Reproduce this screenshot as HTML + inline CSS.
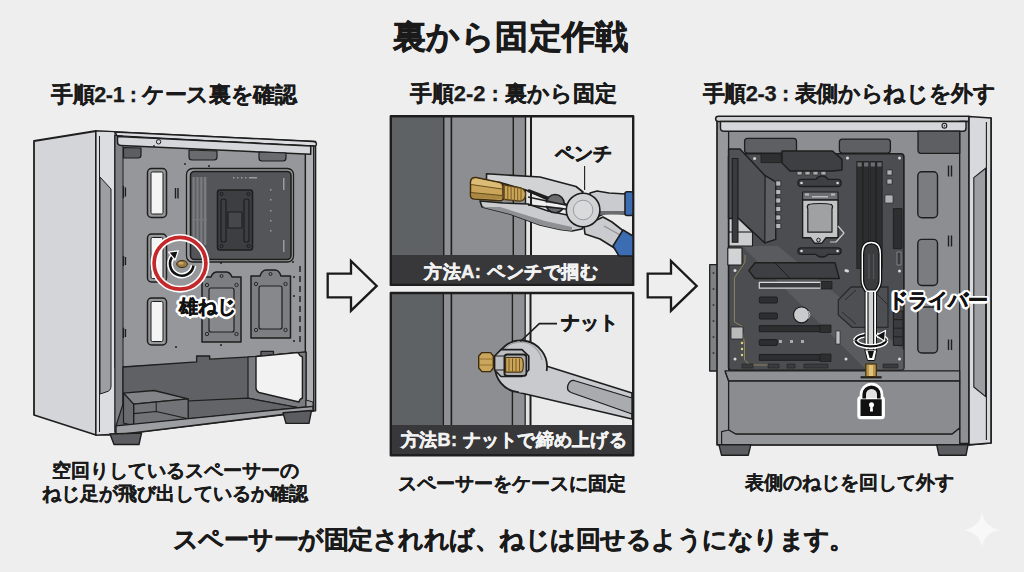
<!DOCTYPE html>
<html lang="ja">
<head>
<meta charset="utf-8">
<title>裏から固定作戦</title>
<style>
html,body{margin:0;padding:0;}
body{width:1024px;height:572px;overflow:hidden;background:#eeeeee;position:relative;font-family:"Liberation Sans",sans-serif;color:#1a1a1a;}
svg.art{position:absolute;left:0;top:0;width:1024px;height:572px;}
.t{position:absolute;white-space:nowrap;font-weight:bold;line-height:1;}
.lbl{color:#f2f2f2;}
.out{color:#111;text-shadow:2.5px 0 0 #fff,-2.5px 0 0 #fff,0 2.5px 0 #fff,0 -2.5px 0 #fff,1.8px 1.8px 0 #fff,-1.8px -1.8px 0 #fff,1.8px -1.8px 0 #fff,-1.8px 1.8px 0 #fff,1px 2.3px 0 #fff,-1px 2.3px 0 #fff,1px -2.3px 0 #fff,-1px -2.3px 0 #fff,2.3px 1px 0 #fff,-2.3px 1px 0 #fff,2.3px -1px 0 #fff,-2.3px -1px 0 #fff,0 0 3px #fff;}
</style>
</head>
<body>
<svg class="art" viewBox="0 0 1024 572">
<!-- PANEL1 -->
<g id="p1" stroke="#1e1e1e" stroke-linejoin="round">
 <!-- side face -->
 <polygon points="34,141 96,131 96,435 34,415" fill="#d3d5d8" stroke-width="1.8"/>
 <!-- front frame outer -->
 <polygon points="96,131 315.5,141.6 315.5,410.7 116,434.9 96,435" fill="#c4c6c9" stroke-width="1.6"/>
 <!-- front bezel strip -->
 <polygon points="96,131 115,131.7 115,434 96,435" fill="#dcdde0" stroke-width="1.2"/>
 <line x1="99.5" y1="136" x2="99.5" y2="432" stroke-width="1"/>
 <path d="M100,177 L111,189 L111,386 Q111,391 106,392 L100,394 Z" fill="#9c9ea1" stroke-width="1"/>
 <!-- top strip light -->
 <path d="M115,132 L313,141.5 Q316.5,141.8 316.5,144 Q316.5,146.2 313,146 L117.5,136.6 Z" fill="#dcdde0" stroke-width="1.3"/>
 <!-- interior panel -->
 <polygon points="115,135.5 305.4,146 305.4,356 123,367 115,367" fill="#96979a" stroke-width="1.2"/>
 <!-- left interior frame strip -->
 <polygon points="115,135.5 123,136 123,430 115,432" fill="#7f8184" stroke-width="1"/>
 <!-- right frame -->
 <polygon points="305.4,146 313.7,146 313.7,410.7 305.4,411" fill="#aeb0b3" stroke-width="1.3"/>
 
 <!-- top rail -->
 <path d="M117.5,136.6 L310.7,146 L310.7,154.3 L121,145.4 Q117.5,145.2 117.5,142 Z" fill="#d6d7da" stroke-width="1.5"/>
 <circle cx="158.6" cy="141.8" r="2.2" fill="none" stroke-width="1"/>
 <!-- top tabs -->
 <path d="M123.5,147.5 L141,148 L141,155 Q141,158 138,158 L123.5,158 Z" fill="#5d5e61" stroke-width="1.2"/>
 <path d="M189,150 L217,151 L217,157 Q217,160 214,160 L192,160 Q189,160 189,157 Z" fill="#6a6b6e" stroke-width="1.2"/>
 <path d="M259,152 L286,153 L286,158 Q286,161 283,161 L262,161 Q259,161 259,158 Z" fill="#6a6b6e" stroke-width="1.2"/>
 <!-- slot cutouts -->
 <rect x="147.5" y="168.5" width="19" height="49" rx="4" fill="#96979a" stroke-width="1.5"/>
 <rect x="151" y="172" width="12" height="42" rx="1.5" fill="#f4f4f4" stroke-width="1"/>
 <rect x="147.5" y="234" width="19" height="48" rx="4" fill="#96979a" stroke-width="1.5"/>
 <rect x="151" y="237.5" width="12" height="41" rx="1.5" fill="#f4f4f4" stroke-width="1"/>
 <rect x="147.5" y="298" width="19" height="47" rx="4" fill="#96979a" stroke-width="1.5"/>
 <rect x="151" y="301.5" width="12" height="40" rx="1.5" fill="#f4f4f4" stroke-width="1"/>
 <!-- small clips -->
 <path d="M123.5,186 v12 M125.5,187.5 v9 M123.5,256 v10 M125.5,257 v8 M123.5,327.7 v10.3 M125.5,329 v8" stroke-width="1.3" fill="none"/>
 <path d="M175.5,188 v10.4 M178,188 v10.4" stroke-width="1.4" fill="none"/>
 <!-- mb cutout -->
 <rect x="186.5" y="168.5" width="107" height="93.5" rx="6" fill="#9a9b9e" stroke-width="1.3"/>
 <rect x="190.5" y="171.5" width="100.5" height="88" rx="4" fill="#545559" stroke-width="1.6"/>
 <rect x="191.9" y="177" width="15.1" height="68" fill="#5e5f62" stroke="none"/><g fill="#7a7b7e" stroke="none"><rect x="192.6" y="177" width="2.2" height="68"/><rect x="196.4" y="177" width="2.2" height="68"/><rect x="200.2" y="177" width="2.2" height="68"/><rect x="204" y="177" width="2.2" height="68"/><rect x="191.9" y="219.3" width="15.1" height="1"/></g>
 <g fill="#9a9b9e" stroke="none"><rect x="233" y="177" width="1.5" height="1.5"/><rect x="237" y="177" width="1.5" height="1.5"/><rect x="241" y="177" width="1.5" height="1.5"/><rect x="245" y="177" width="1.5" height="1.5"/><rect x="249" y="177" width="8" height="1.5"/><rect x="270" y="189" width="1.5" height="1.5"/><rect x="270" y="199" width="1.5" height="1.5"/><rect x="270" y="210" width="1.5" height="1.5"/><rect x="270" y="220" width="1.5" height="1.5"/><rect x="270" y="230" width="1.5" height="1.5"/><rect x="283" y="178" width="1.5" height="12"/><rect x="283" y="240" width="1.5" height="12"/></g>
 <!-- cpu backplate -->
 <rect x="217.5" y="190" width="35" height="60" rx="2.5" fill="#3d3e41" stroke-width="1.6"/>
 <rect x="221" y="199" width="5" height="43" rx="2" fill="none" stroke-width="1.2"/>
 <rect x="244" y="199" width="5" height="43" rx="2" fill="none" stroke-width="1.2"/>
 <rect x="228" y="212" width="14" height="16" fill="#46474a" stroke-width="1.2"/>
 <g fill="none" stroke-width="1"><circle cx="221.5" cy="194" r="1.6"/><circle cx="248.5" cy="194" r="1.6"/><circle cx="221.5" cy="246" r="1.6"/><circle cx="248.5" cy="246" r="1.6"/></g>
 <!-- ssd brackets -->
 <path d="M202,277 L211,277 Q213,272 217,272 L226,272 Q230,272 232,277 L241,277 L241,342 L202,342 Z" fill="#7d7e81" stroke-width="1.5"/>
 <rect x="209" y="288" width="25" height="44" rx="2" fill="#87888b" stroke-width="1.2"/>
 <path d="M251,276 L260,276 Q262,270 266,270 L275,270 Q279,270 281,276 L290.5,276 L290.5,338 L251,338 Z" fill="#7d7e81" stroke-width="1.5"/>
 <rect x="259" y="286" width="23" height="43" rx="2" fill="#87888b" stroke-width="1.2"/>
 <g fill="none" stroke-width="0.9"><circle cx="207" cy="285" r="1.7"/><circle cx="236.5" cy="285" r="1.7"/><circle cx="207" cy="334" r="1.7"/><circle cx="236.5" cy="334" r="1.7"/><circle cx="221.5" cy="276" r="1.5"/><circle cx="256" cy="284" r="1.7"/><circle cx="285.5" cy="284" r="1.7"/><circle cx="256" cy="330" r="1.7"/><circle cx="285.5" cy="330" r="1.7"/><circle cx="270.5" cy="274" r="1.5"/></g>
 <g fill="#1e1e1e" stroke="none"><circle cx="154" cy="146" r="0.9"/><circle cx="209" cy="166" r="1"/><circle cx="218" cy="245" r="0"/><circle cx="221" cy="263" r="1"/><circle cx="293" cy="262" r="1"/><circle cx="294" cy="277" r="1"/><circle cx="294" cy="296" r="1"/><circle cx="294" cy="341" r="1"/><circle cx="221" cy="345" r="1"/><circle cx="176" cy="347" r="1"/><circle cx="185" cy="164" r="0.9"/></g>
 <path d="M300,266 v6 M300,276 v6 M300,286 v6 M300,296 v6 M300,306 v6 M300,316 v6 M300,326 v6 M300,336 v6" stroke-width="1.4"/>
 <!-- psu compartment -->
 <path d="M123,367 L196.6,361.9 L196.6,356 L209.7,356 L209.7,359.2 L255,356.6 L261,356 L261,351.4 L273.5,351.4 L273.5,355 L306,352 L306,411 L123,430 Z" fill="#606164" stroke-width="1.3"/>
 <polygon points="248,357 306,352 306,409 248,398.2" fill="#7b7c7f" stroke-width="1.2"/>
 <polygon points="123,404 248,398.2 306,409 306,407 116,426" fill="#636467" stroke-width="1.2"/>
 <!-- psu cutout -->
 <path d="M256,356.6 L298,352.5 Q299.5,356 302.4,357 L302.4,398 Q299.5,399 299,402 L259,392.5 Q256,391 256,388 Z" fill="#f2f2f2" stroke-width="1.4"/>
 <!-- drive box -->
 <polygon points="123.5,393.1 154,390.5 188.2,398.9 133.6,404.1" fill="#838487" stroke-width="1.3"/>
 <polygon points="133.6,404.1 188.2,398.9 188.2,418.8 133.6,425.6" fill="#727376" stroke-width="1.3"/>
 <polygon points="123.5,393.1 133.6,404.1 133.6,425.6 123.5,423" fill="#6a6b6e" stroke-width="1.2"/>
 <polyline points="133.6,413.6 156.2,411.5 188.2,418.8" fill="none" stroke-width="1.1"/>
 <line x1="156.2" y1="402" x2="156.2" y2="411.5" stroke-width="1"/>
 <!-- base plate -->
 <polygon points="116,425.9 313,406.2 313,410.7 116,434.9" fill="#9d9ea1" stroke-width="1.4"/>
 <polygon points="306,406.9 313,406.2 313,402 306,400" fill="#9d9ea1" stroke-width="1"/>
<!-- feet -->
 <polygon points="110,434 141.5,433 139,444.5 114,444.5" fill="#5c5d60" stroke-width="1.4"/>
 <polygon points="283,412.8 311.5,410.5 309,423.4 286,423.4" fill="#5c5d60" stroke-width="1.4"/>
 <!-- red circle callout -->
 <circle cx="180" cy="263.3" r="25.9" fill="none" stroke="#fff" stroke-width="7"/>
 <circle cx="180" cy="263.3" r="25.9" fill="none" stroke="#c4282b" stroke-width="3.7"/>
 <ellipse cx="182" cy="264" rx="5.4" ry="3.5" fill="#9c7c44" stroke="#3a2c10" stroke-width="1"/>
 <ellipse cx="181" cy="263.2" rx="2.6" ry="1.3" fill="#c9a96a" stroke="none"/>
 <path d="M193.5,265.5 A11.8,11.8 0 1,1 173.5,255.5" fill="none" stroke="#fff" stroke-width="5.6"/>
 <path d="M193.5,265.5 A11.8,11.8 0 1,1 173.5,255.5" fill="none" stroke="#111" stroke-width="2.6"/>
 <polygon points="178.3,250.8 168.6,252.2 175.2,260" fill="#111" stroke="#fff" stroke-width="1.2"/>
</g>
<!-- PANEL2 -->
<g id="p2" stroke="#1e1e1e" stroke-linejoin="round">
 <!-- panel A background -->
 <rect x="391" y="116.5" width="242" height="169" fill="#ebebeb" stroke="none"/>
 <rect x="391" y="116.5" width="52.5" height="139" fill="#5f6265" stroke="none"/>
 <rect x="444.5" y="116.5" width="6" height="139" fill="#8f9194" stroke="none"/>
 <rect x="452" y="116.5" width="60.5" height="139" fill="#8d8e91" stroke="none"/>
 <rect x="514" y="116.5" width="11" height="139" fill="#8f9194" stroke="none"/>
 <rect x="526" y="116.5" width="4" height="139" fill="#e2e2e2" stroke="none"/>
 <g fill="#1e1e1e" stroke="none"><rect x="443" y="116.5" width="1.6" height="139"/><rect x="450.4" y="116.5" width="1.8" height="139"/><rect x="512.4" y="116.5" width="1.6" height="139"/><rect x="524.8" y="116.5" width="1.4" height="139"/><rect x="530" y="116.5" width="2" height="139"/></g>
 <rect x="391" y="255" width="242" height="30" fill="#38383a" stroke="none"/>
 <rect x="390.8" y="116.3" width="242.4" height="168.6" fill="none" stroke-width="2.4"/>
 <!-- leader -->
 <line x1="584.6" y1="166" x2="584.6" y2="190" stroke-width="1.1"/>
 <!-- pliers lower jaw -->
 <path d="M480,201 L503,203 L528,204 L548,211 L572,216 L586,222 L582,229 L572,231 L560,229.5 L540,225 L510,214 L482,207 Z" fill="#c9cbce" stroke-width="1.6"/>
 <path d="M482,207 L510,214 L540,225 L560,229.5 L572,231 L572,227 L545,221 L500,207 Z" fill="#8e9093" stroke="none"/>
 <!-- upper jaw -->
 <path d="M486.5,173.8 L540,177 L576,186.5 L583,192 L576,200 L566,205 L548,200 L526,190 L500,182.5 L486.5,181 Z" fill="#d1d3d5" stroke-width="1.6"/>
 <path d="M528,190.5 L566,205" stroke-width="3.2"/>
 <!-- cutter hole -->
 <circle cx="555.2" cy="203.7" r="9.1" fill="#6b6c6f" stroke-width="1.5"/>
 <path d="M538,203 L575,208" stroke="#f0f0f0" stroke-width="3"/>
 <path d="M528,197 L575,207" stroke-width="1.4"/>
 <path d="M528,205 L575,210" stroke-width="1.4"/>
 <!-- lower handle -->
 <path d="M584,226 L603,217 L612,222 L626,233 L616,249 L600,239 L585,234 Z" fill="#c9cbce" stroke-width="1.6"/><path d="M604,226 L622,236" stroke="#8e9093" stroke-width="1.2"/>
 <path d="M613,246 L623,230 L633,236 L633,256 L619,256 Z" fill="#3c6db3" stroke-width="1.6"/>
 <!-- upper handle -->
 <path d="M590,193 L597,191 L609,193 L626,194 L626,214 L606,213 L590,220 Z" fill="#c9cbce" stroke-width="1.6"/>
 <path d="M600,211 L626,211 L626,214 L600,215 Z" fill="#6b6c6f" stroke="none"/>
 <rect x="625" y="191.8" width="8" height="23.7" rx="2" fill="#3c6db3" stroke-width="1.6"/>
 <!-- pivot -->
 <circle cx="583.1" cy="210" r="16.8" fill="#d1d3d5" stroke-width="1.6"/>
 <circle cx="583.1" cy="210" r="9.8" fill="#d9dadc" stroke="#9a9b9e" stroke-width="1"/>
 <!-- brass standoff -->
 <path d="M501,184.4 L521,188 Q526,190 525.5,195 Q525,200.5 520,201.2 L501,199 Z" fill="#c9a55a" stroke="#4a3510" stroke-width="1.3"/>
 <g stroke="#7a5a20" stroke-width="1" fill="none"><path d="M504.5,185 v15 M507.8,185.5 v15 M511.1,186 v15 M514.4,186.6 v14.8 M517.7,187.2 v14.3 M521,188 v13.5"/></g>
 <path d="M476,177.5 L500,182.5 Q503,183.5 503,186 L503,198.5 Q503,200.8 500,200.8 L474,199 Q470.5,198.5 470.5,195 L470.5,182 Q470.5,177.2 476,177.5 Z" fill="#caa65c" stroke="#3e2c0c" stroke-width="1.5"/>
 <path d="M476,178.5 L500,183.5 L502.2,189 L471.2,184.5 Q471.5,179 476,178.5 Z" fill="#dcbd78" stroke="none"/>
 <path d="M471.2,192.5 L502.2,195.5 L502.2,199.2 L474,198.2 Q471.3,197.5 471.2,195 Z" fill="#a98843" stroke="none"/>
 <path d="M471,184.5 L502,189 M471,192.5 L502,195.5" stroke="#6a4f1a" stroke-width="1"/>
 <!-- ================= panel B ================= -->
 <rect x="391" y="293.5" width="242" height="162" fill="#ebebeb" stroke="none"/>
 <rect x="391" y="292.5" width="52" height="133" fill="#5f6265" stroke="none"/>
 <rect x="444.5" y="292.5" width="6" height="133" fill="#8f9194" stroke="none"/>
 <rect x="452" y="292.5" width="59.5" height="133" fill="#8d8e91" stroke="none"/>
 <rect x="513" y="292.5" width="11.5" height="133" fill="#8f9194" stroke="none"/>
 <rect x="525.5" y="292.5" width="4" height="133" fill="#e2e2e2" stroke="none"/>
 <g fill="#1e1e1e" stroke="none"><rect x="442.7" y="292.5" width="1.6" height="133"/><rect x="450.4" y="292.5" width="1.8" height="133"/><rect x="511.5" y="292.5" width="1.6" height="133"/><rect x="524.4" y="292.5" width="1.4" height="133"/><rect x="529.5" y="292.5" width="2" height="133"/></g>
 <rect x="391" y="425" width="242" height="30.2" fill="#38383a" stroke="none"/>
 <rect x="390.8" y="293" width="242.4" height="162.2" fill="none" stroke-width="2.4"/>
 <!-- wrench -->
 <path d="M543,365 L632,393 L632,419 L519,392.5 Z" fill="#c8cacd" stroke-width="1.7"/>
 <path d="M574,380.5 L632,398 L632,414 L571,392.5 Q566,390 568,385 Q570,380 574,380.5 Z" fill="#a9abae" stroke-width="1.3"/>
 <circle cx="521" cy="366.5" r="26" fill="#c8cacd" stroke="none"/>
 <path d="M546.6,371 A26,26 0 1,0 519,392.4" fill="none" stroke-width="1.8"/>
 <path d="M502,352 A22,22 0 0,1 542,360" fill="none" stroke="#9c9ea1" stroke-width="1.2"/>
 <!-- nut -->
 <polygon points="501,349.6 522,349.6 528.8,356 528.8,370 522,376.5 501,376.5 494.6,370 494.6,356" fill="#bcbec1" stroke-width="1.6"/>
 <path d="M494.6,356 L504,356 M494.6,370 L504,370" stroke-width="1"/>
 <rect x="504.4" y="354.5" width="22" height="21.4" rx="3" fill="#a9abae" stroke-width="1.8"/>
 <!-- standoff -->
 <polygon points="482,352.6 490.5,352.6 493.3,356 493.3,368 490.5,371.6 482,371.6 478.7,368 478.7,356" fill="#caa65c" stroke="#3e2c0c" stroke-width="1.4"/>
 <path d="M479.5,359 L492.5,359 M479.5,365 L492.5,365" stroke="#8a6a2a" stroke-width="0.9"/>
 <path d="M505.6,357.5 L520.5,357.5 Q523.3,358 523.3,365 Q523.3,372 520.5,372.2 L505.6,372.2 Z" fill="#c9a55a" stroke="#4a3510" stroke-width="1.2"/>
 <g stroke="#7a5a20" stroke-width="1" fill="none"><path d="M509,358.5 v13 M512.5,358.5 v13 M516,358.5 v13 M519.5,358.5 v13"/></g>
 <!-- leader -->
 <path d="M557,323.6 L539.3,323.6 L520.4,341.5" fill="none" stroke-width="1.6"/>
</g>
<!-- PANEL3 -->
<g id="p3" stroke="#1e1e1e" stroke-linejoin="round">
 <!-- expansion bracket outside -->
 <rect x="709.7" y="264.7" width="8.5" height="106.3" fill="#808184" stroke-width="1.3"/>
 <g fill="#3a3b3e" stroke="none"><circle cx="713.5" cy="273" r="1"/><circle cx="713.5" cy="289" r="1"/><circle cx="713.5" cy="305" r="1"/><circle cx="713.5" cy="321" r="1"/><circle cx="713.5" cy="337" r="1"/><circle cx="713.5" cy="353" r="1"/></g>
 <!-- case body -->
 <polygon points="717,121 969,121 991,118 991,443 969,444.8 717,444.8" fill="#98999c" stroke-width="1.7"/>
 <!-- interior back -->
 <rect x="728.6" y="131.2" width="231.1" height="250" fill="#8d8e91" stroke-width="1.3"/>
 <!-- left frame detail -->
 <path d="M718.5,116.2 L969,116.2 L969,121.5 L718.5,121.5 Q715.6,121.5 715.6,118.8 Q715.6,116.2 718.5,116.2 Z" fill="#cfd0d3" stroke-width="1.5"/>
 <rect x="959.7" y="121.5" width="9.3" height="322" fill="#8e9093" stroke-width="1.3"/>
 <!-- top rail -->
 <path d="M720.5,121.5 L966,121.5 L966,128 Q966,131.2 963,131.2 L724,131.2 Q720.5,131.2 720.5,128 Z" fill="#d6d7da" stroke-width="1.4"/>
 <circle cx="944.4" cy="125.7" r="2.4" fill="none" stroke-width="1.1"/>
 <circle cx="944.4" cy="125.7" r="0.8" fill="#1e1e1e" stroke="none"/>
 <!-- right interior frame -->
 
 <!-- front panel right -->
 <polygon points="969,116.5 991,118 991,443 969,444.8" fill="#d8d9dc" stroke-width="1.6"/>
 <line x1="986.4" y1="122" x2="986.4" y2="440" stroke-width="1.1"/>
 <path d="M973.8,177.6 L985.6,168.2 L985.6,396.7 L973.8,387 Z" fill="#9c9ea1" stroke-width="1.1"/>
 <!-- top fans -->
 <rect x="744.6" y="138.3" width="51.9" height="14.9" rx="3" fill="#5e5f62" stroke-width="1.3"/>
 <rect x="839.4" y="139.1" width="51" height="14" rx="3" fill="#5e5f62" stroke-width="1.3"/>
 <path d="M918,131.2 L959.7,131.2 L959.7,153.3 L921,153.3 Q918,153.3 918,150 Z" fill="#5e5f62" stroke-width="1.3"/>
 <!-- grommets -->
 <rect x="917.8" y="171.7" width="19.7" height="46" rx="4" fill="#7b7c7f" stroke-width="1.4"/>
 <rect x="917.8" y="239.4" width="19.7" height="46.1" rx="4" fill="#7b7c7f" stroke-width="1.4"/>
 <rect x="917.8" y="307" width="19.7" height="46" rx="4" fill="#7b7c7f" stroke-width="1.4"/>
 <path d="M948.5,165.5 v11 M951.5,165.5 v11 M948.5,235.5 v11 M951.5,235.5 v11 M948.5,339.5 v10.5 M951.5,339.5 v10.5" stroke-width="1.4"/>
 <!-- motherboard -->
 <rect x="728.6" y="153.7" width="175.3" height="216.5" rx="3" fill="#4c4d50" stroke-width="1.6"/>
 <!-- diagonal sheen -->
 <polygon points="742,246 778,246 903.5,350 903.5,369.5 866,369.5" fill="#5a5b5e" stroke="none"/>
 <!-- top vrm heatsink -->
 <polygon points="782,151 832.5,151 842,159.4 842,169.9 833,171 790,171 782,163" fill="#3e3f42" stroke-width="1.5"/>
 <g fill="#a9aaac" stroke="#1e1e1e" stroke-width="0.6"><rect x="797" y="171.5" width="5" height="3.5"/><rect x="805" y="171.5" width="5" height="3.5"/><rect x="813" y="171.5" width="5" height="3.5"/><rect x="821" y="171.5" width="5" height="3.5"/></g>
 <rect x="761" y="153.6" width="20" height="9" fill="#2f3032" stroke="#1e1e1e" stroke-width="0.8"/>
 <circle cx="754.6" cy="158.5" r="1.6" fill="#cfcfcf" stroke="none"/>
 <!-- left vrm heatsink -->
 <polygon points="729,218.4 738.5,218.4 752.5,232 752.5,246 729,246" fill="#cdced0" stroke-width="1.1"/>
 <line x1="729" y1="232" x2="752.5" y2="232" stroke-width="1.1"/>
 <rect x="727.8" y="248" width="14.2" height="17" fill="#d2d3d5" stroke-width="1.1"/>
 <polygon points="728.6,149 740,149 765.1,175.7 775.6,182 775.6,239.2 764.8,242.9 738.5,218.4 728.6,218.4" fill="#505154" stroke-width="1.5"/>
 <polygon points="765.1,175.7 775.6,182 775.6,239.2 764.8,242.9" fill="#5f6063" stroke-width="1.2"/>
 <rect x="732.3" y="158.5" width="5.6" height="83.7" fill="#3a3b3e" stroke-width="1.2"/>
 <g fill="#b7b8ba" stroke="#1e1e1e" stroke-width="0.7"><rect x="775.8" y="181" width="5" height="5"/><rect x="775.8" y="189.5" width="5" height="5"/><rect x="775.8" y="198" width="5" height="5"/><rect x="775.8" y="206.5" width="5" height="5"/><rect x="775.8" y="215" width="5" height="5"/><rect x="775.8" y="223.5" width="5" height="5"/></g>
 
 <!-- cpu cooler bars -->
 <path d="M801.5,179.4 L816,179.4 Q818,176 822,176 Q826,176 828,179.4 L837.6,179.4 Q841.2,179.4 841.2,183 Q841.2,186.5 837.6,186.5 L801.5,186.5 Q797.9,186.5 797.9,183 Q797.9,179.4 801.5,179.4 Z" fill="#3e3f42" stroke-width="1.3"/>
 <path d="M801.5,247.8 L837.6,247.8 Q841.2,247.8 841.2,251 Q841.2,254.3 837.6,254.3 L828,254.3 Q826,257 822,257 Q818,257 816,254.3 L801.5,254.3 Q797.9,254.3 797.9,251 Q797.9,247.8 801.5,247.8 Z" fill="#3e3f42" stroke-width="1.3"/>
 <circle cx="801.5" cy="183" r="1.3" fill="#ddd" stroke="none"/><circle cx="837.6" cy="183" r="1.3" fill="#ddd" stroke="none"/>
 <circle cx="801.5" cy="251" r="1.3" fill="#ddd" stroke="none"/><circle cx="837.6" cy="251" r="1.3" fill="#ddd" stroke="none"/>
 <!-- cpu socket -->
 <rect x="802.6" y="192" width="35.4" height="8" fill="#6d6e71" stroke-width="1.2"/>
 <g fill="#b9babc" stroke="none"><rect x="805" y="193.5" width="4" height="2"/><rect x="831" y="193.5" width="4" height="2"/><rect x="812" y="196" width="16" height="1.5"/></g>
 <path d="M802.6,200 L838,200 L838,237.7 L826,237.7 L822,243.2 L814.5,243.2 L810.5,237.7 L802.6,237.7 Z" fill="#c3c4c6" stroke-width="1.4"/>
 <path d="M808.5,204.6 Q812,203.5 820,203.5 Q828,203.5 831.5,204.6 Q833.3,206 832,209 L832,232.2 L807.8,232.2 L807.8,209 Q806.5,206 808.5,204.6 Z" fill="#a0a1a3" stroke-width="1.2"/>
 <circle cx="818.5" cy="240" r="1.8" fill="none" stroke-width="1"/>
 <path d="M838,226 L844,233 L836,242 L830,242" fill="none" stroke="#c9cacc" stroke-width="1.2"/>
 <!-- ram slots -->
 <g fill="#2d2e30" stroke="#1e1e1e" stroke-width="0.8"><rect x="856.8" y="161.5" width="5.6" height="107"/><rect x="863.4" y="161.5" width="5.6" height="107"/><rect x="870" y="161.5" width="5.6" height="107"/><rect x="876.6" y="161.5" width="5.6" height="107"/></g>
 <g fill="#6c6d70" stroke="none"><rect x="857.5" y="162.5" width="4.2" height="4"/><rect x="864.1" y="162.5" width="4.2" height="4"/><rect x="870.7" y="162.5" width="4.2" height="4"/><rect x="877.3" y="162.5" width="4.2" height="4"/></g>
 <g fill="#b0b1b3" stroke="#1e1e1e" stroke-width="0.6"><rect x="887" y="170" width="5" height="5"/><rect x="887" y="179" width="5" height="5"/><rect x="885" y="195" width="8" height="8"/></g>
 <rect x="893.3" y="208.6" width="8.7" height="40" fill="#2d2e30" stroke-width="0.9"/>
 <rect x="897" y="252" width="4" height="13" fill="#3a3b3e" stroke="#aaa" stroke-width="0.6"/>
 <g fill="#d9d9d9" stroke="none"><circle cx="847.5" cy="158" r="1.5"/><circle cx="899.5" cy="158" r="1.5"/><circle cx="847.5" cy="271" r="1.5"/><circle cx="899.5" cy="271" r="1.5"/><circle cx="735" cy="270.6" r="1.5"/><circle cx="846" cy="270.6" r="1.5"/><circle cx="735" cy="359" r="1.5"/><circle cx="846" cy="359" r="1.5"/><circle cx="899.5" cy="359" r="1.5"/></g>
 <rect x="893.4" y="311" width="9.6" height="34.4" fill="#3a3b3e" stroke-width="1"/>
 <path d="M893.4,319.6 h9.6 M893.4,328.2 h9.6 M893.4,336.8 h9.6" stroke-width="0.9"/>
 <!-- chipset heatsink strip -->
 <polygon points="748.8,270.6 755,262.8 835,262.8 839.3,278.5 755,278.5" fill="#3e3f42" stroke-width="1.4"/>
 <line x1="775" y1="262.8" x2="790" y2="278.5" stroke-width="1"/>
 <!-- big chipset heatsink right -->
 <path d="M838.3,300 L851,287 L888,287 L888,327.3 L852,327.3 L838.3,315 Z" fill="#4e4f52" stroke="#2a2b2d" stroke-width="1.3"/><path d="M842,312 L856,324 M845,300 L856,290 M870,287 L888,305" stroke="#2a2b2d" stroke-width="1" fill="none"/>
 <!-- PCIe slots -->
 <rect x="759.3" y="282.4" width="61.7" height="5.8" fill="#3a3b3e" stroke="#dadada" stroke-width="1.2"/>
 <rect x="821" y="281.5" width="11" height="7.5" fill="#2d2e30" stroke-width="0.8"/>
 <rect x="759.3" y="297" width="18" height="6" rx="1" fill="#2d2e30" stroke-width="1"/>
 <rect x="759.3" y="313" width="18" height="6" rx="1" fill="#2d2e30" stroke-width="1"/>
 <rect x="759.3" y="325.7" width="61" height="6" fill="#2d2e30" stroke-width="1"/>
 <rect x="820" y="325" width="11" height="7.5" fill="#2d2e30" stroke-width="0.8"/>
 <rect x="759.3" y="339.6" width="18" height="5.8" rx="1" fill="#2d2e30" stroke-width="1"/>
 <rect x="759.3" y="354.5" width="61" height="5.8" fill="#2d2e30" stroke-width="1"/>
 <rect x="820" y="354" width="11" height="7.5" fill="#2d2e30" stroke-width="0.8"/>
 <circle cx="801.5" cy="314.8" r="8" fill="#c9cacc" stroke-width="1.2"/><path d="M808.5,311 L810,314.8 L808.5,318.5" fill="none" stroke="#c9cacc" stroke-width="1"/>
 <g fill="#a9aaac" stroke="none"><rect x="779" y="340" width="3" height="3"/><rect x="790" y="340" width="3" height="3"/><rect x="801" y="340" width="3" height="3"/></g>
 <rect x="836" y="331" width="4" height="13" fill="#c0c1c3" stroke="#1e1e1e" stroke-width="0.6"/>
 <!-- gold trace -->
 <path d="M745,255 L745,262 L734.4,278 L734.4,322 L741.7,326 L744.5,344 L744.5,360 L750,365 L770,365" fill="none" stroke="#958b62" stroke-width="0.9"/>
 <rect x="731" y="327" width="12" height="12" fill="#b9babc" stroke-width="0.8"/>
 <g fill="#e8d57a" stroke="none"><circle cx="742" cy="343" r="1.2"/><circle cx="742" cy="349" r="1.2"/><circle cx="742" cy="355" r="1.2"/></g>
 <g fill="#3a3b3e" stroke="#1e1e1e" stroke-width="0.6"><rect x="742" y="364" width="11" height="4"/><rect x="768" y="364" width="11" height="4"/><rect x="787" y="364" width="8" height="4"/><rect x="804" y="364" width="24" height="4"/><rect x="883" y="364" width="15" height="4"/></g>
 <!-- psu shroud -->
 <path d="M725,370.8 L959.7,370.8 L959.7,381 L728.6,381 Z" fill="#909194" stroke-width="1.2"/>
 <path d="M728.6,381 L959.7,381 L959.7,428 L952,434.2 L736,434.2 L728.6,430 Z" fill="#8b8c8f" stroke-width="1.3"/>
 <path d="M721.6,431.6 L728.6,430 L736,434.2 L952,434.2 L959.7,428 L959.7,444.8 L721.6,444.8 Z" fill="#949598" stroke-width="1.2"/>
 <path d="M725,371.4 L728.6,381" stroke-width="1.1"/>
 <!-- feet -->
 <polygon points="719,444.8 750.8,444.8 748.3,455.2 721.5,455.2" fill="#5c5d60" stroke-width="1.4"/>
 <polygon points="936.7,444.8 968,444.8 966,455.3 939,455.3" fill="#5c5d60" stroke-width="1.4"/>
 <!-- standoff + washer -->
 <rect x="860.6" y="376.2" width="21" height="2.2" fill="#1e1e1e" stroke="none"/>
 <rect x="865.8" y="364" width="10.5" height="12.6" fill="#b8964e" stroke="#3e2c0c" stroke-width="1.2"/><rect x="869" y="365" width="4" height="11" fill="#e0c27a" stroke="none"/>
 
 <!-- screwdriver -->
 <path d="M855.5,340.5 A15.3,6.5 0 0,1 886,340.5" fill="none" stroke="#fff" stroke-width="5"/>
 <path d="M855.5,340.5 A15.3,6.5 0 0,1 886,340.5" fill="none" stroke="#111" stroke-width="2.3"/>
 <path d="M871.2,243.8 C877,243.8 879,248.5 879,254 L879,280 Q879,285 875.3,290 L867.3,290 Q863.6,285 863.6,280 L863.6,254 C863.6,248.5 865.5,243.8 871.2,243.8 Z" fill="#3b3c3e" stroke="#111" stroke-width="6.6"/>
 <path d="M871.2,243.8 C877,243.8 879,248.5 879,254 L879,280 Q879,285 875.3,290 L867.3,290 Q863.6,285 863.6,280 L863.6,254 C863.6,248.5 865.5,243.8 871.2,243.8 Z" fill="#3b3c3e" stroke="#fff" stroke-width="4"/>
 <path d="M871.2,243.8 C877,243.8 879,248.5 879,254 L879,280 Q879,285 875.3,290 L867.3,290 Q863.6,285 863.6,280 L863.6,254 C863.6,248.5 865.5,243.8 871.2,243.8 Z" fill="#3b3c3e" stroke="#111" stroke-width="1.2"/>
 <path d="M869,254 v25 M873.6,254 v25" stroke="#5a5b5e" stroke-width="1"/>
 <rect x="864.6" y="292" width="12.4" height="58" fill="#111" stroke="none"/>
 <rect x="865.6" y="292" width="10.4" height="58" fill="#fff" stroke="none"/>
 <rect x="867.4" y="292" width="6.8" height="58" fill="#1e1e1e" stroke="none"/>
 <rect x="868.6" y="292" width="4.4" height="58" fill="#d2d3d5" stroke="none"/>
 <polygon points="864.8,349.9 876.8,349.9 874.6,360.5 867.5,360.5" fill="#fff" stroke="#111" stroke-width="1"/>
 <polygon points="867.6,351 874,351 872,358 869.6,358" fill="#111" stroke="none"/>
 <path d="M855.5,340.5 A15.3,6.5 0 0,0 886,340.5" fill="none" stroke="#fff" stroke-width="5"/>
 <path d="M855.5,340.5 A15.3,6.5 0 0,0 886,340.5" fill="none" stroke="#111" stroke-width="2.3"/>
 <polygon points="876,335.5 885.5,330.5 884.5,341" fill="#111" stroke="#fff" stroke-width="1.2"/>
<!-- lock -->
 <path d="M864.2,398 L864.2,394.5 A7.3,7.3 0 0,1 878.8,394.5 L878.8,398" fill="none" stroke="#fff" stroke-width="9"/>
 <rect x="858.9" y="397.6" width="24.4" height="20.1" rx="2" fill="#111" stroke="#fff" stroke-width="3.2"/>
 <path d="M865.9,398 L865.9,394.5 A5.6,5.6 0 0,1 877.1,394.5 L877.1,398 Z" fill="#e4e4e4" stroke="none"/>
 <path d="M864.2,398.5 L864.2,394.5 A7.3,7.3 0 0,1 878.8,394.5 L878.8,398.5" fill="none" stroke="#111" stroke-width="3.6"/>
 <circle cx="871.5" cy="404.8" r="2.5" fill="#fff" stroke="none"/>
 <polygon points="870.4,405 872.6,405 873,411.5 870,411.5" fill="#fff" stroke="none"/>
</g>
<!-- ARROWS -->
<g fill="none" stroke="#1a1a1a" stroke-width="2.3" stroke-linejoin="miter">
 <polygon points="327.7,273.6 351,273.6 351,261 376.7,285.9 351,310.7 351,297.4 327.7,297.4"/>
 <polygon points="647.7,273.6 671,273.6 671,261 696.7,285.9 671,310.7 671,297.4 647.7,297.4"/>
 <path d="M982,512 Q984.5,527.5 1000.5,530 Q984.5,532.5 982,547 Q979.5,532.5 963.5,530 Q979.5,527.5 982,512 Z" fill="#f8f8f8" stroke="none"/>
</g>
</svg>
<div class="t" style="left:393.0px;top:20.2px;font-size:33.39px;-webkit-text-stroke:0.6px #1a1a1a;letter-spacing:0.4px">裏から固定作戦</div>
<div class="t" style="left:51.0px;top:83.6px;font-size:21.63px;-webkit-text-stroke:0.25px #1a1a1a;letter-spacing:-0.4px">手順2-1 : ケース裏を確認</div>
<div class="t" style="left:409.8px;top:82.9px;font-size:21.92px;-webkit-text-stroke:0.25px #1a1a1a">手順2-2 : 裏から固定</div>
<div class="t" style="left:702.5px;top:83.0px;font-size:21.83px;-webkit-text-stroke:0.25px #1a1a1a;letter-spacing:-0.35px">手順2-3 : 表側からねじを外す</div>
<div class="t lbl" style="left:424.0px;top:263.0px;font-size:18.45px;-webkit-text-stroke:0.5px #f2f2f2;letter-spacing:0.5px">方法A: ペンチで掴む</div>
<div class="t lbl" style="left:401.0px;top:431.2px;font-size:18.14px;-webkit-text-stroke:0.5px #f2f2f2;letter-spacing:0.27px">方法B: ナットで締め上げる</div>
<div class="t" style="left:555.2px;top:145.3px;font-size:18.6px;-webkit-text-stroke:0.6px #1a1a1a">ペンチ</div>
<div class="t" style="left:560.5px;top:314.4px;font-size:18.71px;-webkit-text-stroke:0.6px #1a1a1a">ナット</div>
<div class="t out" style="left:178.5px;top:296.6px;font-size:19.11px;-webkit-text-stroke:0.45px #111">雄ねじ</div>
<div class="t out" style="left:887.5px;top:289.8px;font-size:20.13px;-webkit-text-stroke:0.45px #111">ドライバー</div>
<div class="t cap" style="left:52.0px;top:462.0px;font-size:18.84px;-webkit-text-stroke:0.2px #1a1a1a">空回りしているスペーサーの</div>
<div class="t cap" style="left:42.1px;top:483.6px;font-size:19.08px;-webkit-text-stroke:0.2px #1a1a1a">ねじ足が飛び出しているか確認</div>
<div class="t cap" style="left:397.5px;top:473.6px;font-size:19.18px;-webkit-text-stroke:0.2px #1a1a1a">スペーサーをケースに固定</div>
<div class="t cap" style="left:745.0px;top:474.2px;font-size:18.9px;-webkit-text-stroke:0.2px #1a1a1a">表側のねじを回して外す</div>
<div class="t" style="left:173.0px;top:526.5px;font-size:24.89px;-webkit-text-stroke:0.4px #1a1a1a;letter-spacing:-0.52px">スペーサーが固定されれば、ねじは回せるようになります。</div>
<script>
(function(){
  var W=[235.8,245.5,207.1,293,174.1,226,57,57,57,100,247,266,228,209,681];
  function fit(){
    var els=document.querySelectorAll('.t');
    for(var i=0;i<els.length&&i<W.length;i++){
      var e=els[i]; e.style.transform='none';
      var w=e.getBoundingClientRect().width;
      if(w>0&&Math.abs(w/W[i]-1)>0.04){e.style.transformOrigin='0 50%';e.style.transform='scaleX('+(W[i]/w)+')';}
    }
  }
  fit();
  if(document.fonts&&document.fonts.ready){document.fonts.ready.then(fit);}
})();
</script>
</body>
</html>
